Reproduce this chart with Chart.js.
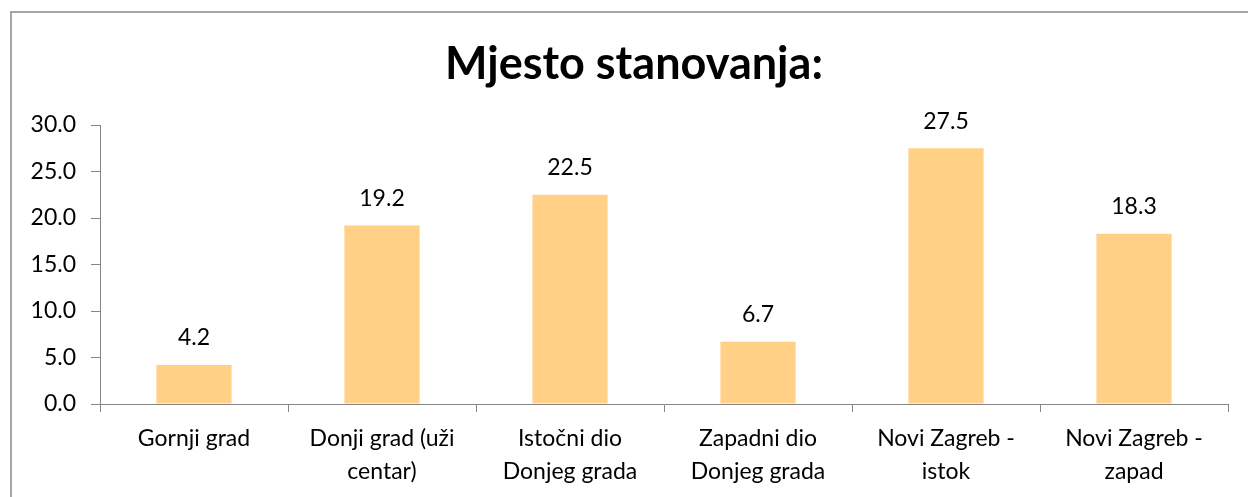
<!DOCTYPE html>
<html>
<head>
<meta charset="utf-8">
<script src="https://cdn.jsdelivr.net/npm/chart.js@4.4.1/dist/chart.umd.min.js"></script>
<style>
	html, body { margin: 0; padding: 0; background: #fff; overflow: hidden; }
	#frame { position: absolute; left: 10px; top: 11px; width: 2000px; height: 2000px;
		border-left: 2px solid #a6a6a6; border-top: 2px solid #a6a6a6; }
	#wrap { position: absolute; left: 0; top: 0; width: 1248px; height: 497px; }
</style>
</head>
<body>
<div id="frame"></div>
<div id="wrap"><canvas id="chartMjesto" width="1248" height="497"></canvas></div>
<script>

var naslov = "Mjesto stanovanja:";
var kategorije = [
	["Gornji grad"],
	["Donji grad (uži", "centar)"],
	["Istočni dio", "Donjeg grada"],
	["Zapadni dio", "Donjeg grada"],
	["Novi Zagreb -", "istok"],
	["Novi Zagreb -", "zapad"]
];
var postotci = [4.2, 19.2, 22.5, 6.7, 27.5, 18.3];
var yTicks = [0, 5, 10, 15, 20, 25, 30];

var fontName = "Lato";
var axisColor = "#868686";

// title drawn over the whole frame (not only the plot), plus labels above the bars
var tekstPlugin = {
	id: 'tekst',
	afterDraw: function(chart){
		var ctx = chart.ctx;
		ctx.save();
		ctx.font = "bold 45px " + fontName;
		ctx.fillStyle = "#000";
		ctx.textAlign = "center";
		ctx.textBaseline = "alphabetic";
		ctx.fillText(naslov, 634, 79);
		ctx.restore();
	},
	afterDatasetsDraw: function(chart){
		var ctx = chart.ctx;
		var meta = chart.getDatasetMeta(0);
		ctx.save();
		ctx.font = "23px " + fontName;
		ctx.fillStyle = "#000";
		ctx.textAlign = "center";
		ctx.textBaseline = "middle";
		meta.data.forEach(function(bar, i){
			ctx.fillText(postotci[i].toFixed(1), bar.x, bar.y - 27);
		});
		ctx.restore();
	}
};

function init_chart_mjesto(){

	if( typeof (Chart) === 'undefined'){ return; }

	var chart_element = document.getElementById('chartMjesto');

	var chart_bar_settings = {
		type: 'bar',
		data: {
			labels: kategorije,
			datasets: [{
				data: postotci,
				backgroundColor: "rgb(255,208,134)",
				borderWidth: 0,
				categoryPercentage: 0.4,
				barPercentage: 1.0
			}]
		},
		options: {
			responsive: false,
			animation: false,
			layout: { padding: { left: 0, right: 20, top: 125, bottom: 0 } },
			plugins: {
				legend: { display: false },
				tooltip: { enabled: false },
				title: { display: false }
			},
			scales: {
				x: {
					offset: true,
					grid: { offset: true, drawOnChartArea: false, drawTicks: true, tickLength: 8, color: axisColor },
					border: { display: true, color: axisColor, width: 1 },
					ticks: {
						color: "#000",
						maxRotation: 0,
						autoSkip: false,
						padding: 10,
						font: { family: fontName, size: 23, lineHeight: 1.43 }
					},
					afterFit: function(s){ s.height = 93; }
				},
				y: {
					min: 0,
					max: 30,
					afterBuildTicks: function(s){
						s.ticks = yTicks.map(function(v){ return { value: v }; });
					},
					grid: { drawOnChartArea: false, drawTicks: true, tickLength: 9, color: axisColor },
					border: { display: true, color: axisColor, width: 1 },
					ticks: {
						color: "#000",
						padding: 15,
						font: { family: fontName, size: 23 },
						callback: function(v){ return Number(v).toFixed(1); }
					},
					afterFit: function(s){ s.width = 100; }
				}
			}
		},
		plugins: [tekstPlugin]
	};

	var chart_bar = new Chart(chart_element, chart_bar_settings);
}

init_chart_mjesto();
</script>
</body>
</html>
